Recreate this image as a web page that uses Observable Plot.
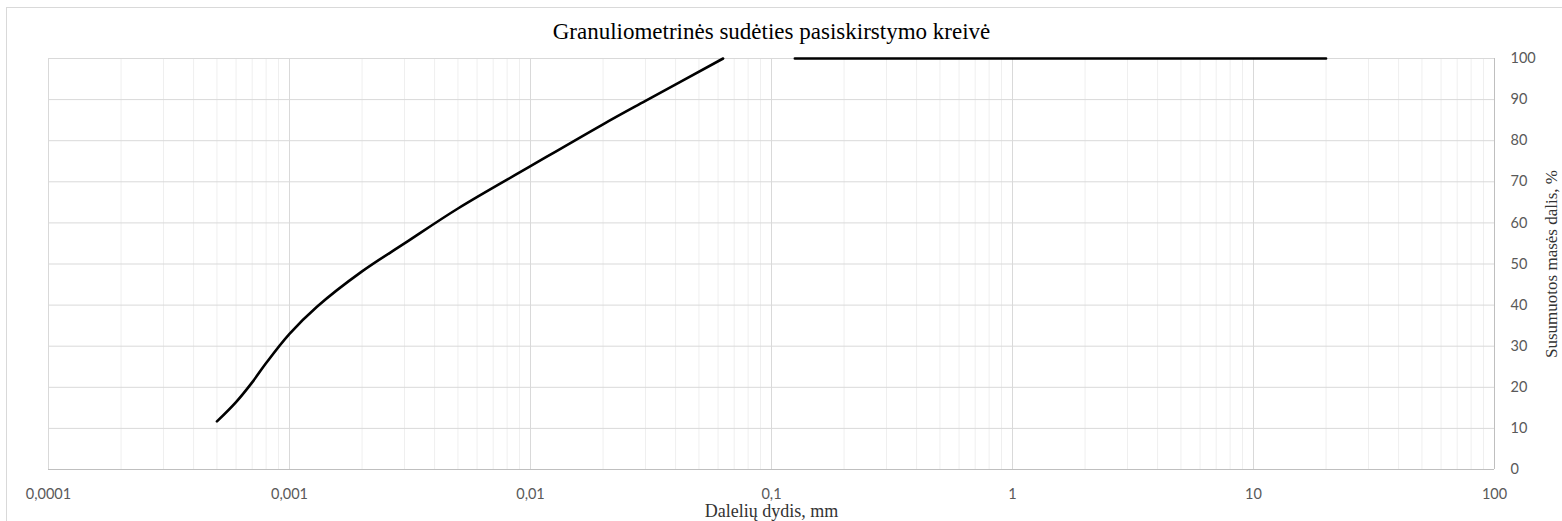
<!DOCTYPE html>
<html>
<head>
<meta charset="utf-8">
<script src="https://cdn.jsdelivr.net/npm/d3@7"></script>
<script src="https://cdn.jsdelivr.net/npm/@observablehq/plot@0.6"></script>
<style>
  html, body { margin: 0; padding: 0; background: #fff; overflow: hidden; }
  #wrap { position: relative; width: 1562px; height: 521px; }
  #border { position: absolute; left: 6px; top: 7px; width: 1600px; height: 600px; border: 1px solid #d9d9d9; box-sizing: border-box; pointer-events: none; }
  .serif-text text { font-family: "Liberation Serif", "Times New Roman", serif !important; }
</style>
</head>
<body>
<div id="wrap"><div id="border"></div></div>
<script>
const title = "Granuliometrinės sudėties pasiskirstymo kreivė";
const xTitle = "Dalelių dydis, mm";
const yTitle = "Susumuotos masės dalis, %";

// particle size (mm) and cumulative passing (%); null = gap in the line
const sizes   = [0.0005, 0.0006, 0.0007, 0.0008, 0.001, 0.0013, 0.002, 0.003, 0.005, 0.01, 0.02, 0.03, 0.063, 0.09, 0.125, 0.25, 0.5, 1, 2, 5, 10, 20];
const passing = [11.7,   16.4,   21.2,   25.9,   33.0,  39.6,   48.2,  55.0,  63.5,  73.8, 84.0, 89.7, 100,   null, 100,   100,  100, 100, 100, 100, 100, 100];

const xTicks = [0.0001, 0.001, 0.01, 0.1, 1, 10, 100];
const xTickLabels = ["0,0001", "0,001", "0,01", "0,1", "1", "10", "100"];
const yTicks = [0, 10, 20, 30, 40, 50, 60, 70, 80, 90, 100];

const data = sizes.map((s, i) => ({size: s, pct: passing[i]}));
const minor = [];
for (const d of xTicks.slice(0, -1)) for (let k = 2; k <= 9; k++) minor.push(d * k);

const serif = "Liberation Serif";

const chart = Plot.plot({
  width: 1562,
  height: 521,
  marginLeft: 48,
  marginRight: 68,
  marginTop: 58,
  marginBottom: 52,
  style: {fontFamily: "Lato, sans-serif", fontSize: "14.5px", color: "#595959", background: "transparent"},
  x: {type: "log", domain: [0.0001, 100]},
  y: {domain: [0, 100]},
  marks: [
    Plot.ruleX(minor, {stroke: "#efefef", strokeWidth: 1}),
    Plot.ruleX(xTicks, {stroke: "#d9d9d9", strokeWidth: 1}),
    Plot.ruleY(yTicks, {stroke: "#d9d9d9", strokeWidth: 1}),
    Plot.ruleY([0], {stroke: "#bfbfbf", strokeWidth: 1}),
    Plot.ruleX([100], {stroke: "#bfbfbf", strokeWidth: 1}),
    Plot.axisX({ticks: xTicks, tickSize: 0, tickPadding: 19, tickFormat: (d) => xTickLabels[xTicks.indexOf(d)], label: null}),
    Plot.axisY({ticks: yTicks, anchor: "right", tickSize: 0, tickPadding: 16, textAnchor: "start", label: null}),
    Plot.line(data, {x: "size", y: "pct", stroke: "black", strokeWidth: 2.6, curve: "catmull-rom"}),
    Plot.text([title], {frameAnchor: "top", lineAnchor: "middle", dy: -27, fontFamily: serif, fontSize: 23, fill: "#000", className: "serif-text"}),
    Plot.text([xTitle], {frameAnchor: "bottom", lineAnchor: "middle", dy: 41.5, fontFamily: serif, fontSize: 18, fill: "#333", className: "serif-text"}),
    Plot.text([yTitle], {frameAnchor: "right", textAnchor: "middle", lineAnchor: "middle", dx: 57, rotate: -90, fontFamily: serif, fontSize: 17, fill: "#333", className: "serif-text"})
  ]
});
chart.style.position = "absolute";
chart.style.left = "0";
chart.style.top = "0";
document.getElementById("wrap").appendChild(chart);
</script>
</body>
</html>
